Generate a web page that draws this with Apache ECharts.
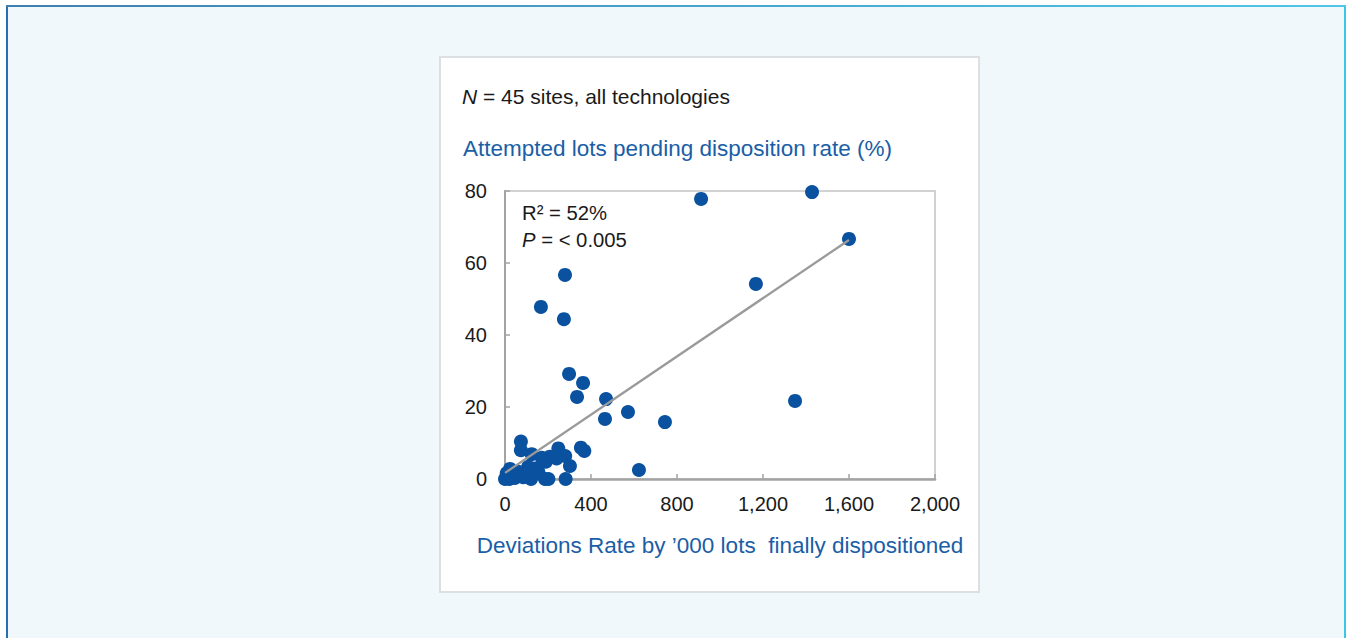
<!DOCTYPE html>
<html>
<head>
<meta charset="utf-8">
<script src="https://cdn.jsdelivr.net/npm/echarts@6/dist/echarts.min.js"></script>
<style>
  html, body { margin: 0; padding: 0; width: 1351px; height: 638px; overflow: hidden; background: #ffffff; }
  #frame { position: absolute; left: 6px; top: 5px; width: 1340px; height: 640px; background: #f0f8fb;
           border-left: 2px solid #2470b0; border-right: 2px solid #3fc3e6; box-sizing: border-box; }
  #topline { position: absolute; left: 6px; top: 5px; width: 1340px; height: 2px;
             background: linear-gradient(to right, #3f7fb0, #4fc6e8); }
  #panel { position: absolute; left: 439px; top: 56px; width: 541px; height: 537px; background: #ffffff;
           border: 2px solid #dde0e2; box-sizing: border-box; }
  #chart { position: absolute; left: 0; top: 0; width: 1351px; height: 638px; }
</style>
</head>
<body>
<div id="frame"></div>
<div id="topline"></div>
<div id="panel"></div>
<div id="chart"></div>
<script>
// Deviations rate per '000 lots finally dispositioned (x) vs attempted lots pending disposition rate % (y)
const deviationsRate = [
  912, 1428, 1600, 1167, 1349, 744, 623, 572, 470, 465,
  279, 167, 274, 298, 363, 335, 353, 369, 74, 74,
  248, 280, 124, 171, 209, 240, 302, 108, 140, 23,
  62, 8, 0, 46, 85, 121, 186, 202, 282, 155,
  95, 20, 60, 130, 190
];
const pendingRate = [
  77.8, 79.7, 66.7, 54.2, 21.7, 15.8, 2.5, 18.6, 22.2, 16.7,
  56.7, 47.8, 44.4, 29.2, 26.7, 22.8, 8.7, 7.8, 10.4, 8.0,
  8.5, 6.4, 6.9, 5.9, 6.2, 5.7, 3.6, 3.4, 2.9, 2.8,
  2.0, 1.6, 0, 0.3, 0.5, 0, 0, 0, 0, 2.0,
  1.2, 0, 1.0, 1.5, 4.8
];
// Linear trend line end points (as drawn in the reference)
const trendX = [0, 1600];
const trendY = [1.7, 66.4];

const xTicks = { min: 0, max: 2000, interval: 400 };
const yTicks = { min: 0, max: 80, interval: 20 };

const points = deviationsRate.map((x, i) => [x, pendingRate[i]]);
const trend = trendX.map((x, i) => [x, trendY[i]]);

const FONT = '"Liberation Sans", Arial, sans-serif';
const BLUE = '#1a5ea6';
const DOT = '#0a52a0';

const chart = echarts.init(document.getElementById('chart'), null, { renderer: 'svg' });
chart.setOption({
  backgroundColor: 'transparent',
  animation: false,
  textStyle: { fontFamily: FONT },
  title: [
    {
      text: '{i|N} = 45 sites, all technologies',
      left: 462, top: 86, padding: 0,
      textStyle: {
        fontFamily: FONT, fontSize: 21, fontWeight: 'normal', color: '#1a1a1a',
        rich: { i: { fontStyle: 'italic', fontSize: 21, fontFamily: FONT, color: '#1a1a1a' } }
      }
    },
    {
      text: 'Attempted lots pending disposition rate (%)',
      left: 463, top: 137, padding: 0,
      textStyle: { fontFamily: FONT, fontSize: 22.5, fontWeight: 'normal', color: BLUE }
    },
    {
      text: 'R² = 52%\n{i|P} = < 0.005',
      left: 522, top: 199, padding: 0,
      textStyle: {
        fontFamily: FONT, fontSize: 20.3, fontWeight: 'normal', color: '#1a1a1a', lineHeight: 27,
        rich: { i: { fontStyle: 'italic', fontSize: 20.3, fontFamily: FONT, color: '#1a1a1a', lineHeight: 27 } }
      }
    }
  ],
  grid: {
    left: 505, top: 191, width: 430, height: 288,
    show: true, borderColor: '#c4c4c4', borderWidth: 1.5, backgroundColor: 'transparent'
  },
  xAxis: {
    type: 'value',
    min: xTicks.min, max: xTicks.max, interval: xTicks.interval,
    name: "Deviations Rate by \u2019000 lots  finally dispositioned",
    nameLocation: 'middle', nameGap: 55,
    nameTextStyle: { fontFamily: FONT, fontSize: 22.5, color: BLUE },
    axisLine: { show: true, lineStyle: { color: '#a3a3a3', width: 2.5 } },
    axisTick: { show: true, inside: true, length: 5, lineStyle: { color: '#a3a3a3', width: 1.5 } },
    axisLabel: {
      fontFamily: FONT, fontSize: 20, color: '#1a1a1a', margin: 15,
      formatter: v => v.toLocaleString('en-US')
    },
    splitLine: { show: false }
  },
  yAxis: {
    type: 'value',
    min: yTicks.min, max: yTicks.max, interval: yTicks.interval,
    axisLine: { show: true, lineStyle: { color: '#a3a3a3', width: 2 } },
    axisTick: { show: true, inside: true, length: 5, lineStyle: { color: '#a3a3a3', width: 1.5 } },
    axisLabel: { fontFamily: FONT, fontSize: 20, color: '#1a1a1a', margin: 18 },
    splitLine: { show: false }
  },
  series: [
    {
      type: 'line',
      data: trend,
      symbol: 'none',
      lineStyle: { color: '#9a9a9a', width: 2.3 },
      z: 3,
      silent: true
    },
    {
      type: 'scatter',
      data: points,
      symbol: 'circle',
      symbolSize: 14,
      itemStyle: { color: DOT, opacity: 1 },
      clip: false,
      z: 2
    }
  ]
});
</script>
</body>
</html>
